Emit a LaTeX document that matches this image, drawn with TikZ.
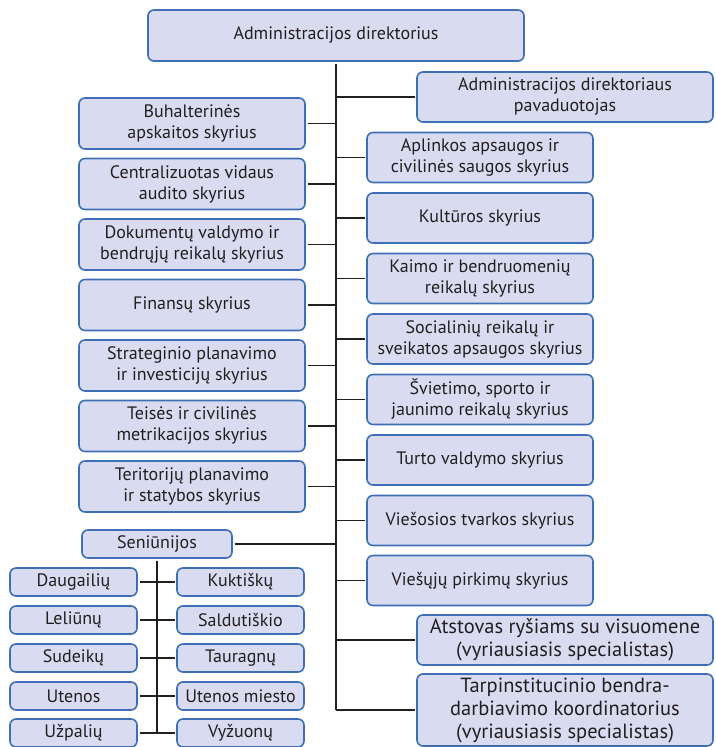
\documentclass[tikz,border=0pt]{standalone}
\usepackage{fontspec}
\setmainfont{PT Sans}
\usetikzlibrary{positioning}

\definecolor{boxfill}{RGB}{217,220,240}
\definecolor{boxline}{RGB}{62,111,182}
\definecolor{ink}{RGB}{35,31,32}

\begin{document}
\begin{tikzpicture}[x=1pt,y=-1pt,
  every node/.style={text=ink,font=\fontsize{18}{21}\selectfont},
  unit/.style={draw=boxline,fill=boxfill,line width=1.6pt,rounded corners=6pt,
    align=center,inner sep=0pt,outer sep=2.5pt},
  leftunit/.style={unit,minimum width=226pt,minimum height=51pt},
  rightunit/.style={unit,minimum width=226pt,minimum height=50pt},
  wideunit/.style={unit,minimum width=296pt,minimum height=50pt,
    font=\fontsize{20.5}{23}\selectfont},
  ward/.style={unit,minimum width=127pt,minimum height=28pt},
  link/.style={draw=ink,line width=1.7pt}]
\useasboundingbox (0,0) rectangle (715,747);
% head
\node[unit,minimum width=376pt,minimum height=51pt] (dir) at (336,35.5) {Administracijos direktorius};
\coordinate (trunk) at (336,710);
% right column
\node[wideunit,font=\fontsize{18}{21}\selectfont] (pav) at (565,97) {Administracijos direktoriaus\\pavaduotojas};
\node[rightunit] (apl) at (480,157.5) {Aplinkos apsaugos ir\\civilinės saugos skyrius};
\node[rightunit] (kult) at (480,218) {Kultūros skyrius};
\node[rightunit] (kaim) at (480,278.5) {Kaimo ir bendruomenių\\reikalų skyrius};
\node[rightunit] (soc) at (480,339) {Socialinių reikalų ir\\sveikatos apsaugos skyrius};
\node[rightunit] (svi) at (480,399.5) {Švietimo, sporto ir\\jaunimo reikalų skyrius};
\node[rightunit] (turt) at (480,460) {Turto valdymo skyrius};
\node[rightunit] (vies) at (480,520.5) {Viešosios tvarkos skyrius};
\node[rightunit] (pirk) at (480,580.5) {Viešųjų pirkimų skyrius};
\node[wideunit] (atst) at (565,640) {Atstovas ryšiams su visuomene\\(vyriausiasis specialistas)};
\node[wideunit,minimum height=72pt] (tarp) at (565,710) {Tarpinstitucinio bendra-\\darbiavimo koordinatorius\\(vyriausiasis specialistas)};
% left column
\node[leftunit] (buh) at (192,123.5) {Buhalterinės\\apskaitos skyrius};
\node[leftunit] (cent) at (192,184) {Centralizuotas vidaus\\audito skyrius};
\node[leftunit] (dok) at (192,244.5) {Dokumentų valdymo ir\\bendrųjų reikalų skyrius};
\node[leftunit] (fin) at (192,305) {Finansų skyrius};
\node[leftunit] (strat) at (192,365.5) {Strateginio planavimo\\ir investicijų skyrius};
\node[leftunit] (teis) at (192,426) {Teisės ir civilinės\\metrikacijos skyrius};
\node[leftunit] (terit) at (192,486.5) {Teritorijų planavimo\\ir statybos skyrius};
% wards
\node[unit,minimum width=150pt,minimum height=28pt] (sen) at (157,544) {Seniūnijos};
\node[ward] (daug) at (73.5,582) {Daugailių};
\node[ward] (leli) at (73.5,620) {Leliūnų};
\node[ward] (sude) at (73.5,658) {Sudeikų};
\node[ward] (uten) at (73.5,696) {Utenos};
\node[ward] (uzpa) at (73.5,733) {Užpalių};
\node[ward] (kukt) at (240.5,582) {Kuktiškų};
\node[ward] (sald) at (240.5,620) {Saldutiškio};
\node[ward] (taur) at (240.5,658) {Tauragnų};
\node[ward] (utmi) at (240.5,696) {Utenos miesto};
\node[ward] (vyzu) at (240.5,733) {Vyžuonų};
% connectors
\draw[link] (dir.south) -- (trunk);
\draw[link] (pav.west) -- (pav.west -| trunk);
\draw[link] (apl.west) -- (apl.west -| trunk);
\draw[link] (kult.west) -- (kult.west -| trunk);
\draw[link] (kaim.west) -- (kaim.west -| trunk);
\draw[link] (soc.west) -- (soc.west -| trunk);
\draw[link] (svi.west) -- (svi.west -| trunk);
\draw[link] (turt.west) -- (turt.west -| trunk);
\draw[link] (vies.west) -- (vies.west -| trunk);
\draw[link] (pirk.west) -- (pirk.west -| trunk);
\draw[link] (atst.west) -- (atst.west -| trunk);
\draw[link] (tarp.west) -- (trunk);
\draw[link] (buh.east) -- (buh.east -| trunk);
\draw[link] (cent.east) -- (cent.east -| trunk);
\draw[link] (dok.east) -- (dok.east -| trunk);
\draw[link] (fin.east) -- (fin.east -| trunk);
\draw[link] (strat.east) -- (strat.east -| trunk);
\draw[link] (teis.east) -- (teis.east -| trunk);
\draw[link] (terit.east) -- (terit.east -| trunk);
\draw[link] (sen.east) -- (sen.east -| trunk);
\draw[link] (sen.south) -- (sen.south |- uzpa.east);
\draw[link] (daug.east) -- (kukt.west);
\draw[link] (leli.east) -- (sald.west);
\draw[link] (sude.east) -- (taur.west);
\draw[link] (uten.east) -- (utmi.west);
\draw[link] (uzpa.east) -- (vyzu.west);
\end{tikzpicture}
\end{document}
